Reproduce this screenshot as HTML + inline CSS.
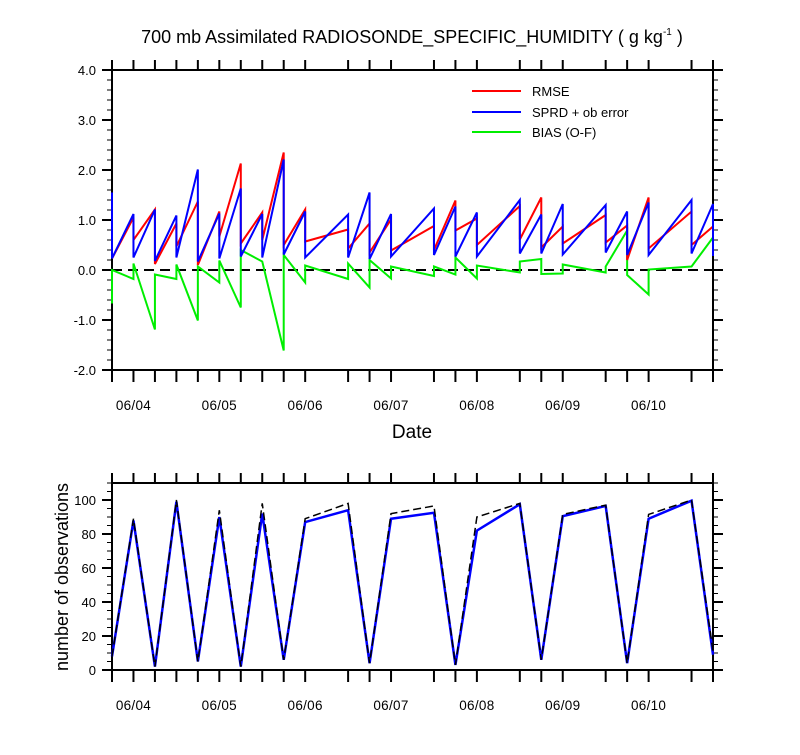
<!DOCTYPE html>
<html><head><meta charset="utf-8"><style>
html,body{margin:0;padding:0;background:#fff;}
svg text{font-family:"Liberation Sans",sans-serif;fill:#000;}
</style></head><body>
<svg id="chart" width="800" height="750" xmlns="http://www.w3.org/2000/svg">
<text x="412" y="43" font-size="18" text-anchor="middle">700 mb Assimilated RADIOSONDE_SPECIFIC_HUMIDITY ( g kg<tspan font-size="10" dy="-8">-1</tspan><tspan dy="8"> )</tspan></text>
<text x="412" y="438" font-size="19" text-anchor="middle">Date</text>
<text transform="translate(68,577) rotate(-90)" font-size="18" text-anchor="middle">number of observations</text>
<g id="topPlot"></g>
<g id="botPlot"></g>
<g>
 <line x1="472" y1="91" x2="521" y2="91" stroke="#f00" stroke-width="2"/>
 <text x="532" y="96" font-size="13">RMSE</text>
 <line x1="472" y1="112" x2="521" y2="112" stroke="#00f" stroke-width="2"/>
 <text x="532" y="117" font-size="13">SPRD + ob error</text>
 <line x1="472" y1="132" x2="521" y2="132" stroke="#0e0" stroke-width="2"/>
 <text x="532" y="137" font-size="13">BIAS (O-F)</text>
</g>
</svg>
<script>
const times = [0,1,2,3,4,5,6,7,8,9,11,12,13,15,16,17,19,20,21,23,24,25,27,28];
const rmsePrior = [0.23,1.05,1.21,0.93,1.37,1.17,2.13,1.15,2.35,1.21,0.81,0.93,1.01,0.88,1.39,1.03,1.28,1.45,0.87,1.10,0.89,1.45,1.17,0.87];
const rmsePost  = [0.23,0.60,0.12,0.47,0.10,0.67,0.53,0.60,0.50,0.57,0.43,0.35,0.39,0.40,0.79,0.50,0.61,0.45,0.53,0.55,0.20,0.43,0.50,0.87];
const sprdPrior = [1.55,1.12,1.21,1.09,2.01,1.13,1.63,1.12,2.21,1.17,1.11,1.55,1.12,1.23,1.27,1.15,1.40,1.11,1.32,1.30,1.17,1.35,1.40,1.32];
const sprdPost  = [0.23,0.25,0.18,0.25,0.17,0.23,0.27,0.25,0.31,0.25,0.25,0.22,0.27,0.30,0.27,0.27,0.33,0.33,0.31,0.35,0.30,0.30,0.33,0.28];
const biasPrior = [-0.67,-0.18,-1.19,-0.18,-1.01,-0.25,-0.75,0.17,-1.61,-0.25,-0.18,-0.35,-0.17,-0.12,-0.09,-0.17,-0.05,0.22,-0.07,-0.05,0.79,-0.49,0.07,0.65];
const biasPost  = [0.00,0.13,-0.09,0.11,0.07,0.19,0.40,0.17,0.30,0.09,0.13,0.20,0.07,0.07,0.25,0.09,0.17,-0.08,0.11,0.07,-0.10,0.01,0.07,0.65];
const obsUsed   = [8,88,2,99,5,90,2,92,6,87,94,4,89,92.5,3,82,97.5,6,90.5,96.5,4,89,99.6,9];
const obsTotal  = [8,89,2,100,5,94,2,98,6,89,98,4,92,96.5,3,90,98,6,91.5,97,4,91.5,100,11];
const dateLabels = ["06/04","06/05","06/06","06/07","06/08","06/09","06/10"];
const dateIdx = [1,5,9,13,17,21,25];
const topTicks = [-2,-1,0,1,2,3,4];
const botTicks = [0,20,40,60,80,100];

const NS="http://www.w3.org/2000/svg";
const X0=112,X1=713;
const xs=t=>X0+t*(X1-X0)/28;
const yTop=v=>270-v*50;
const yBot=v=>670-v*1.7;
function mk(tag,attrs,parent){const e=document.createElementNS(NS,tag);for(const k in attrs)e.setAttribute(k,attrs[k]);parent.appendChild(e);return e;}
const topG=document.getElementById('topPlot'), botG=document.getElementById('botPlot');

function frame(g,y0,y1,yfun,vmin,vmax,minorStep,majors,fmt,prefix){
  const r=mk('rect',{x:X0,y:y0,width:X1-X0,height:y1-y0,fill:'none',stroke:'#000','stroke-width':2},g);
  
  
  const n=Math.round((vmax-vmin)/minorStep);
  for(let k=0;k<=n;k++){
    const v=vmin+k*minorStep;
    const y=yfun(v);
    const maj=majors.some(m=>Math.abs(m-v)<1e-6);
    const L=maj?10:5;
    const l1=mk('line',{x1:X0-L,y1:y,x2:X0,y2:y,stroke:'#000','stroke-width':maj?2:1},g);
    
    
    const l2=mk('line',{x1:X1,y1:y,x2:X1+L,y2:y,stroke:'#000','stroke-width':maj?2:1},g);
    
    
  }
  majors.forEach(m=>{
    const t=mk('text',{x:X0-16,y:yfun(m)+5,'font-size':13,'text-anchor':'end'},g);
    t.textContent=fmt(m);
    
    
  });
  times.forEach(t=>{
    const x=xs(t);
    const a=mk('line',{x1:x,y1:y0-10,x2:x,y2:y0,stroke:'#000','stroke-width':2},g);
    
    
    const b=mk('line',{x1:x,y1:y1,x2:x,y2:y1+12,stroke:'#000','stroke-width':2},g);
    
    
  });
  dateIdx.forEach((d,i)=>{
    const t=mk('text',{x:xs(d),y:y1+40,'font-size':13.5,'text-anchor':'middle','letter-spacing':'0.3'},g);
    t.textContent=dateLabels[i];
    
    
  });
}
frame(topG,70,370,yTop,-2,4,0.2,topTicks,v=>v.toFixed(1),'top');
frame(botG,483,670,yBot,0,110,5,botTicks,v=>String(v),'bottom');

const z=mk('line',{x1:X0,y1:yTop(0),x2:X1,y2:yTop(0),stroke:'#000','stroke-width':2,'stroke-dasharray':'10,6'},topG);



function saw(pr,po,yf){
  let pts=[];
  times.forEach((t,i)=>{pts.push(xs(t)+','+yf(pr[i]));pts.push(xs(t)+','+yf(po[i]));});
  return pts.join(' ');
}
const gl=mk('polyline',{points:saw(biasPrior,biasPost,yTop),fill:'none',stroke:'#0e0','stroke-width':2},topG);


const rl=mk('polyline',{points:saw(rmsePrior,rmsePost,yTop),fill:'none',stroke:'#f00','stroke-width':2},topG);


const bl=mk('polyline',{points:saw(sprdPrior,sprdPost,yTop),fill:'none',stroke:'#00f','stroke-width':2},topG);



const ou=mk('polyline',{points:times.map((t,i)=>xs(t)+','+yBot(obsUsed[i])).join(' '),fill:'none',stroke:'#00f','stroke-width':2.5},botG);


const ot=mk('polyline',{points:times.map((t,i)=>xs(t)+','+yBot(obsTotal[i])).join(' '),fill:'none',stroke:'#000','stroke-width':1.5,'stroke-dasharray':'8,4'},botG);


</script>
</body></html>
